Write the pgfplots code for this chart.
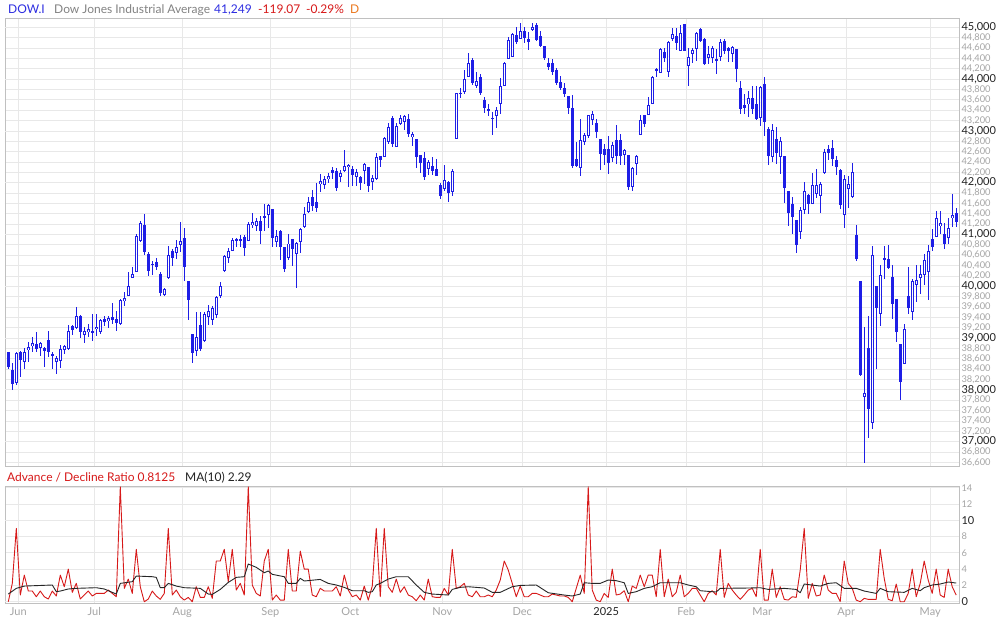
\documentclass[border=0pt]{standalone}
\usepackage{fontspec}
\setmainfont{Lato}
\usepackage{pgfplots}
\usepackage{pgfplotstable}
\pgfplotsset{compat=1.18}
\definecolor{cblue}{RGB}{30,30,230}
\definecolor{gridc}{RGB}{232,232,232}
\definecolor{framec}{RGB}{192,192,192}
\definecolor{minorlab}{RGB}{165,165,165}
\definecolor{majorlab}{RGB}{35,35,35}
\definecolor{adred}{RGB}{215,25,25}
\definecolor{hdrblue}{RGB}{45,45,225}
\definecolor{hdrgray}{RGB}{130,130,130}
\definecolor{hdrorange}{RGB}{235,120,30}

\pgfplotstableread{
i o h l c
0 38722 38735 38400 38432
1 38380 38516 38000 38110
2 38142 38722 38097 38710
3 38722 38742 38252 38574
4 38529 38800 38400 38722
5 38774 38916 38542 38819
6 38839 39019 38735 38897
7 38884 39116 38735 38787
8 38800 38916 38658 38897
9 38806 38819 38445 38755
10 38955 39135 38626 38722
11 38697 38735 38400 38658
12 38529 38658 38303 38606
13 38561 38871 38432 38780
14 38774 38871 38690 38839
15 38787 39258 38774 39142
16 39226 39258 39064 39161
17 39187 39600 39174 39419
18 39425 39445 39006 39122
19 39064 39206 38909 39129
20 39109 39264 39019 39167
21 39135 39464 38948 39103
22 39174 39458 39045 39219
23 39109 39367 39084 39342
24 39367 39425 39238 39316
25 39322 39432 39187 39387
26 39406 39677 39264 39355
27 39367 39516 39142 39296
28 39277 39754 39258 39735
29 39709 39883 39625 39774
30 39806 40277 39806 40012
31 40154 40367 40154 40232
32 40270 41012 40270 40967
33 40883 41251 40851 41225
34 41186 41399 40606 40670
35 40625 40657 40206 40303
36 40432 40490 40225 40412
37 40464 40541 40322 40367
38 40238 40277 39819 39864
39 39838 39961 39819 39948
40 40154 40786 40141 40606
41 40683 40722 40399 40554
42 40645 40896 40528 40754
43 40799 41238 40657 40877
44 40928 41128 40109 40367
45 40096 40096 39354 39742
46 39071 39071 38510 38703
47 38755 39496 38658 39013
48 39251 39496 38755 38780
49 38948 39509 38929 39464
50 39413 39638 39251 39516
51 39355 39625 39251 39587
52 39451 39819 39387 39800
53 39806 40077 39767 40012
54 40303 40606 40270 40580
55 40541 40735 40451 40690
56 40690 40928 40683 40903
57 40883 40941 40754 40915
58 40883 40993 40754 40915
59 40948 40993 40593 40735
60 40883 41238 40870 41206
61 41181 41407 41129 41232
62 41168 41310 41071 41258
63 41258 41355 40813 41071
64 41355 41587 41071 41323
65 41368 41587 41129 41561
66 41484 41497 40762 40923
67 40858 41084 40762 40968
68 41065 41084 40504 40749
69 40749 40762 40278 40342
70 40549 41007 40517 40826
71 40904 40910 40394 40729
72 40633 40858 39968 40845
73 40858 41116 40646 41097
74 41149 41536 41116 41387
75 41426 41729 41407 41620
76 41716 41858 41458 41549
77 41620 42000 41439 41503
78 41968 42168 41826 42032
79 41948 42129 41871 42065
80 42065 42194 42000 42129
81 42245 42310 42065 42194
82 42232 42277 41845 41903
83 42103 42245 42019 42181
84 42219 42632 42213 42323
85 42297 42361 41923 42342
86 42258 42323 41942 42148
87 42116 42258 41942 42200
88 42103 42129 41858 42000
89 42232 42374 41968 42355
90 42297 42310 41826 41942
91 42019 42148 41858 42084
92 42065 42568 42052 42503
93 42516 42522 42310 42439
94 42503 42890 42503 42858
95 42793 43148 42748 43071
96 43245 43290 42697 42742
97 42697 43148 42697 43097
98 43129 43309 43116 43245
99 43180 43309 43019 43290
100 43226 43322 42877 42935
101 42877 42987 42716 42942
102 42839 42839 42290 42503
103 42535 42535 42194 42374
104 42471 42600 42052 42116
105 42258 42439 42148 42393
106 42323 42490 42148 42232
107 42258 42452 42129 42135
108 41955 41987 41684 41748
109 41871 42342 41845 42052
110 42019 42039 41632 41794
111 41826 42258 41748 42226
112 42852 43736 42852 43723
113 43736 43819 43645 43716
114 43755 44174 43710 43994
115 44045 44510 44045 44303
116 44368 44413 43884 43916
117 43871 44142 43819 43961
118 44032 44090 43690 43723
119 43594 43658 43349 43445
120 43432 43510 43290 43387
121 43258 43368 42916 43232
122 43290 43464 43058 43413
123 43529 44013 43323 43871
124 43871 44335 43871 44303
125 44381 44819 44381 44755
126 44432 44884 44432 44864
127 44852 45013 44677 44722
128 44768 45077 44768 44929
129 44929 45013 44703 44787
130 44774 44916 44561 44710
131 44948 45077 44929 45013
132 45045 45077 44742 44755
133 44832 44929 44626 44645
134 44639 44639 44368 44400
135 44303 44400 44174 44239
136 44303 44381 44077 44142
137 44174 44206 43884 43916
138 43948 44058 43787 43819
139 43819 43916 43658 43710
140 43671 43671 43335 43452
141 43452 43690 42290 42323
142 42465 42787 42303 42323
143 42290 43226 42129 42832
144 42787 42968 42723 42916
145 42903 43316 42865 43303
146 43206 43381 43110 43323
147 43155 43239 42865 42981
148 42852 42852 42252 42562
149 42645 42755 42336 42529
150 42658 42903 42174 42381
151 42484 42787 42400 42736
152 42832 43110 42368 42516
153 42819 42948 42348 42516
154 42542 42658 42336 42639
155 42542 42542 41852 41916
156 41916 42303 41839 42290
157 42368 42542 42142 42510
158 42929 43316 42929 43219
159 43303 43316 43077 43142
160 43316 43658 43316 43497
161 43529 44058 43529 44045
162 44194 44219 44045 44168
163 44110 44593 44110 44574
164 44529 44593 44335 44413
165 44142 44735 44032 44722
166 44768 44980 44735 44864
167 44832 44980 44561 44703
168 44548 45045 44548 44884
169 45064 45064 44548 44548
170 44258 44593 43871 44419
171 44477 44606 44303 44561
172 44574 44916 44355 44884
173 44961 44993 44722 44742
174 44774 44787 44271 44290
175 44400 44639 44290 44477
176 44400 44639 44303 44593
177 44387 44574 44097 44355
178 44419 44774 44355 44710
179 44735 44774 44477 44548
180 44606 44626 44323 44548
181 44477 44645 44323 44626
182 44574 44574 43948 44187
183 43819 43968 43335 43432
184 43497 43710 43323 43452
185 43510 43768 43271 43626
186 43626 43871 43335 43432
187 43510 43871 43219 43239
188 43258 43871 43097 43839
189 43897 44032 42903 43174
190 43045 43078 42336 42516
191 42497 43142 42400 43013
192 42852 43078 42355 42581
193 42497 42884 42162 42800
194 42516 42516 41607 41900
195 41836 41836 41161 41420
196 41580 41720 41000 41340
197 41275 41275 40642 40804
198 41055 41532 40914 41481
199 41468 42016 41398 41836
200 41771 41787 41404 41581
201 41594 42187 41581 41962
202 41788 42258 41710 41949
203 41742 42013 41420 41981
204 42178 42648 42174 42591
205 42645 42723 42445 42581
206 42668 42822 42330 42448
207 42435 42516 42145 42294
208 42248 42271 41500 41565
209 41384 42158 41130 42068
210 41871 42138 41516 41984
211 41726 42371 41710 42210
212 40981 41178 40488 40523
213 40097 40097 38270 38278
214 37859 39214 36582 37943
215 38814 39420 37072 37633
216 37356 40774 37246 40600
217 40000 40000 38407 39588
218 39471 40407 39233 40213
219 40510 40774 40136 40542
220 40523 40794 40342 40362
221 40181 40407 39362 39665
222 39749 39749 38923 39117
223 38891 38891 37807 38149
224 38504 39265 38504 39181
225 39807 40375 39471 39588
226 39504 40149 39343 40097
227 40033 40407 39697 40117
228 40168 40407 39859 40233
229 40213 40632 40033 40516
230 40278 40794 39730 40678
231 40910 41103 40684 40749
232 40955 41452 40955 41310
233 41168 41452 41006 41213
234 41000 41213 40729 40826
235 40942 41310 40826 41116
236 41310 41774 41149 41374
237 41407 41503 41136 41245
}\candles

\pgfplotstableread{
i v
0 0.0
1 2.25
2 9.0
3 0.82
4 3.27
5 1.31
6 1.31
7 0.61
8 1.31
9 0.61
10 0.33
11 1.31
12 0.70
13 3.27
14 1.84
15 4.0
16 1.15
17 2.25
18 0.33
19 0.82
20 1.31
21 0.70
22 1.02
23 1.02
24 1.02
25 1.43
26 1.02
27 0.61
28 14.1
29 1.64
30 2.78
31 1.02
32 6.43
33 1.84
34 0.0
35 0.33
36 1.31
37 0.70
38 0.29
39 1.02
40 9.0
41 0.82
42 1.43
43 0.61
44 0.2
45 0.53
46 0.0
47 1.84
48 0.53
49 0.53
50 1.84
51 0.41
52 5.0
53 5.0
54 6.43
55 2.46
56 6.43
57 1.43
58 2.25
59 0.82
60 14.1
61 2.05
62 1.02
63 0.70
64 5.0
65 6.43
66 0.2
67 0.82
68 0.2
69 0.2
70 6.43
71 1.31
72 1.31
73 6.22
74 4.0
75 4.0
76 0.82
77 0.61
78 1.64
79 1.31
80 1.31
81 1.31
82 1.84
83 0.70
84 3.27
85 1.43
86 0.61
87 0.82
88 0.2
89 1.92
90 0.2
91 1.92
92 9.0
93 0.61
94 9.0
95 1.84
96 1.15
97 2.78
98 1.15
99 1.84
100 0.82
101 0.61
102 0.12
103 0.82
104 0.2
105 2.78
106 0.61
107 0.53
108 0.53
109 1.64
110 0.82
111 6.43
112 1.64
113 1.84
114 2.25
115 0.82
116 0.61
117 1.31
118 0.61
119 0.61
120 0.82
121 0.61
122 1.43
123 2.66
124 5.0
125 3.89
126 2.25
127 0.61
128 1.92
129 0.61
130 0.61
131 1.02
132 1.02
133 0.82
134 0.61
135 0.61
136 0.94
137 0.82
138 0.70
139 0.70
140 0.53
141 0.0
142 1.64
143 3.27
144 1.02
145 14.1
146 1.43
147 0.2
148 0.0
149 1.02
150 0.53
151 4.0
152 0.82
153 0.94
154 1.35
155 0.0
156 1.92
157 1.64
158 3.27
159 1.84
160 3.27
161 3.27
162 0.61
163 6.43
164 0.61
165 2.78
166 0.61
167 1.15
168 3.27
169 0.61
170 1.02
171 1.64
172 1.64
173 0.82
174 0.0
175 1.02
176 1.35
177 0.82
178 6.43
179 0.53
180 2.25
181 1.43
182 0.82
183 0.29
184 0.82
185 1.43
186 1.64
187 0.61
188 6.43
189 0.2
190 0.2
191 4.0
192 0.53
193 1.84
194 0.29
195 0.2
196 0.61
197 0.53
198 3.89
199 9.0
200 0.41
201 2.25
202 0.70
203 0.82
204 3.27
205 1.43
206 1.02
207 1.02
208 0.0
209 5.0
210 2.25
211 1.64
212 0.2
213 0.0
214 0.41
215 0.29
216 0.29
217 0.29
218 6.43
219 2.87
220 0.29
221 0.12
222 2.17
223 0.0
224 0.0
225 1.02
226 4.0
227 0.61
228 2.25
229 5.0
230 2.66
231 1.02
232 4.0
233 0.82
234 0.53
235 4.0
236 1.84
237 0.8125
}\adr

\pgfplotstableread{
i v
0 0.94
2 1.64
4 1.92
11 2.05
12 1.23
13 1.31
15 1.56
17 1.64
22 1.72
24 1.56
27 0.94
28 2.25
31 2.46
32 3.15
36 3.07
37 2.99
38 1.72
39 1.72
40 2.25
42 1.92
44 1.72
48 1.64
50 0.94
51 0.90
53 1.51
55 2.37
57 2.99
59 3.07
60 4.63
62 4.22
64 3.56
65 3.77
66 3.36
69 3.07
70 2.25
72 2.25
73 2.87
74 2.54
78 2.74
80 2.25
82 2.05
84 1.76
86 1.35
89 1.35
90 1.15
91 1.23
92 2.05
93 2.25
95 2.78
97 3.07
100 3.07
102 2.05
104 1.15
106 0.94
110 0.82
111 1.51
113 1.76
115 1.84
117 1.76
119 1.68
121 1.15
123 1.15
126 1.84
128 2.0
132 2.05
135 1.1
139 0.82
141 0.70
143 0.94
144 2.33
146 2.25
148 2.25
150 2.66
152 2.58
154 2.33
155 1.02
157 1.23
159 1.64
161 1.84
163 2.33
168 2.33
170 2.05
172 1.84
173 1.35
177 1.19
178 1.64
185 1.68
188 1.72
190 1.51
194 1.64
197 1.51
198 1.1
199 2.17
203 1.92
205 2.25
207 2.33
209 1.64
212 1.64
214 1.31
217 1.02
218 1.64
220 1.23
224 1.15
226 1.64
228 1.35
229 1.72
231 2.05
233 2.17
235 2.42
237 2.29
}\mavg

\begin{document}
\begin{tikzpicture}
\useasboundingbox (0,0) rectangle (1000pt,622pt);
\fill[white] (0,0) rectangle (1000pt,622pt);

% header texts
\node[anchor=base west, inner sep=0pt, font=\fontsize{12}{12}\selectfont, text=hdrblue] at (8pt,608pt) {DOW.I};
\node[anchor=base west, inner sep=0pt, font=\fontsize{12}{12}\selectfont, text=hdrgray] at (54pt,608pt) {Dow Jones Industrial Average};
\node[anchor=base west, inner sep=0pt, font=\fontsize{12}{12}\selectfont, text=hdrblue] at (214pt,608pt) {41,249};
\node[anchor=base west, inner sep=0pt, font=\fontsize{12}{12}\selectfont, text=adred] at (258pt,608pt) {-119.07};
\node[anchor=base west, inner sep=0pt, font=\fontsize{12}{12}\selectfont, text=adred] at (306pt,608pt) {-0.29\%};
\node[anchor=base west, inner sep=0pt, font=\fontsize{12}{12}\selectfont, text=hdrorange] at (350pt,608pt) {D};

\node[anchor=base west, inner sep=0pt, font=\fontsize{12}{12}\selectfont, text=adred] at (7pt,140.3pt) {Advance / Decline Ratio 0.8125};
\node[anchor=base west, inner sep=0pt, font=\fontsize{12}{12}\selectfont, text=majorlab] at (185pt,140.3pt) {MA(10) 2.29};

\pgfplotsset{candle/.style={only marks, mark=*, mark size=0pt, mark options={draw=none, fill=none},
  error bars/y dir=both, error bars/y explicit, error bars/error mark=none}}

% price panel
\begin{axis}[
  at={(5pt,156pt)}, anchor=south west, scale only axis,
  width=954pt, height=448pt,
  xmin=-0.825, xmax=237.7, ymin=36530, ymax=45180,
  scaled y ticks=false,
  axis line style={framec, line width=0.8pt},
  major tick length=0pt, minor tick length=0pt,
  xtick={2.5,21.5,43.5,65.5,85.5,108.5,128.5,149.5,169.5,188.5,209.5,230.5},
  xticklabels={},
  xmajorgrids, ymajorgrids,
  grid style={gridc, line width=0.8pt},
  ytick={36600,36800,37200,37400,37600,37800,38200,38400,38600,38800,39200,39400,39600,39800,40200,40400,40600,40800,41200,41400,41600,41800,42200,42400,42600,42800,43200,43400,43600,43800,44200,44400,44600,44800},
  extra y ticks={37000,38000,39000,40000,41000,42000,43000,44000,45000},
  yticklabel pos=right,
  yticklabel={\pgfmathprintnumber[assume math mode=true, 1000 sep={,}, fixed, precision=0]{\tick}},
  yticklabel style={font=\fontsize{9.3}{9.3}\selectfont, text=minorlab, anchor=west, xshift=-1pt},
  extra y tick style={grid=major, yticklabel style={font=\fontsize{11}{11}\selectfont, text=majorlab}},
]
% wicks
\addplot[candle, error bars/error bar style={cblue, line width=1pt}]
  table[x=i, y expr={(\thisrow{h}+\thisrow{l})/2}, y error expr={(\thisrow{h}-\thisrow{l})/2}] {\candles};
% bodies
\addplot[candle, error bars/error bar style={cblue, line width=3pt, line cap=butt}]
  table[x=i, y expr={(\thisrow{o}+\thisrow{c})/2}, y error expr={max(abs(\thisrow{c}-\thisrow{o})/2,13)}] {\candles};
% hollow interiors (up candles)
\addplot[candle, restrict y to domain=30000:50000, error bars/error bar style={white, line width=1.1pt, line cap=butt}]
  table[x=i, y expr={ifthenelse(\thisrow{c}-\thisrow{o}>42,(\thisrow{o}+\thisrow{c})/2,0)}, y error expr={ifthenelse(\thisrow{c}-\thisrow{o}>42,(\thisrow{c}-\thisrow{o})/2-19,0)}] {\candles};
\end{axis}

% breadth panel
\begin{axis}[
  at={(5pt,19pt)}, anchor=south west, scale only axis,
  width=954pt, height=117pt,
  xmin=-0.825, xmax=237.7, ymin=-0.16, ymax=14.21,
  axis line style={framec, line width=0.8pt},
  major tick length=0pt, minor tick length=0pt,
  xtick={2.5,21.5,43.5,65.5,85.5,108.5,128.5,149.5,169.5,188.5,209.5,230.5},
  xticklabels={Jun,Jul,Aug,Sep,Oct,Nov,Dec,\textcolor{majorlab}{2025},Feb,Mar,Apr,May},
  xticklabel style={font=\fontsize{11}{11}\selectfont, text=minorlab, yshift=-1pt},
  xmajorgrids, ymajorgrids,
  grid style={gridc, line width=0.8pt},
  ytick={2,4,6,8,12,14},
  extra y ticks={0,10},
  yticklabel pos=right,
  yticklabel={\pgfmathprintnumber[assume math mode=true]{\tick}},
  yticklabel style={font=\fontsize{9.3}{9.3}\selectfont, text=minorlab, anchor=west, xshift=-1pt},
  extra y tick style={grid=major, yticklabel style={font=\fontsize{11}{11}\selectfont, text=majorlab}},
]
\addplot[adred, line width=0.9pt, mark=none, line join=round] table[x=i, y=v] {\adr};
\addplot[black!85, line width=0.9pt, mark=none, line join=round] table[x=i, y=v] {\mavg};
\end{axis}
\end{tikzpicture}
\end{document}
